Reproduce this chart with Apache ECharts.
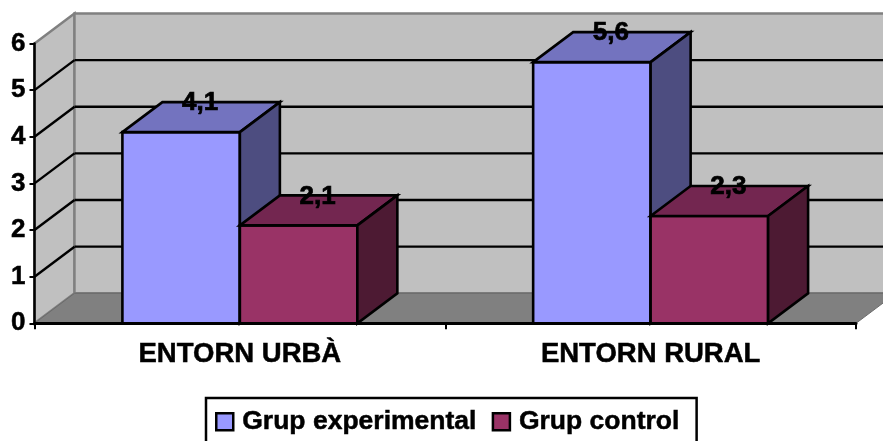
<!DOCTYPE html>
<html>
<head>
<meta charset="utf-8">
<style>html,body{margin:0;padding:0;background:#fff}#c{width:883px;height:441px}</style>
<script src="https://cdn.jsdelivr.net/npm/echarts@6/dist/echarts.min.js"></script>
</head>
<body>
<div id="c"></div>
<script>
var categories = ['ENTORN URBÀ', 'ENTORN RURAL'];
var grupExperimental = [4.1, 5.6];
var grupControl = [2.1, 2.3];
var wallLevels = [0, 1, 2, 3, 4, 5, 6];

var DX = 40, DY = -30, BAR_RATIO = 0.286;
var FONT = '"Liberation Sans", Arial, sans-serif';

function poly(points, fill, stroke, lw) {
  return {type: 'polygon', shape: {points: points},
    style: {fill: fill, stroke: stroke, lineWidth: lw, lineJoin: 'miter'}};
}
function seg(x1, y1, x2, y2, color, lw) {
  return {type: 'line', shape: {x1: x1, y1: y1, x2: x2, y2: y2},
    style: {stroke: color, lineWidth: lw, fill: null}};
}

function renderWall(params, api) {
  var cs = params.coordSys;
  var level = api.value(0);
  var p = api.coord([0, level]);
  var y = p[1], L = cs.x, R = cs.x + cs.width;
  var kids = [];
  if (level === 0) {
    var top = cs.y;
    kids.push(poly([[L, top], [L + DX, top + DY], [L + DX, y + DY], [L, y]], '#c0c0c0', '#808080', 2.4));
    kids.push(poly([[L + DX, top + DY], [R + DX, top + DY], [R + DX, y + DY], [L + DX, y + DY]], '#c0c0c0', '#808080', 2.4));
    kids.push(poly([[L, y], [L + DX, y + DY], [R + DX, y + DY], [R, y]], '#808080', '#6a6a6a', 1));
  } else if (level < 6) {
    kids.push(seg(L, y, L + DX, y + DY, '#000', 2.4));
    kids.push(seg(L + DX, y + DY, R + DX, y + DY, '#000', 2.4));
  }
  return {type: 'group', children: kids};
}

function makeBar(side, front, topC, sideC) {
  return function (params, api) {
    var band = api.size([1, 0])[0];
    var w = band * BAR_RATIO;
    var idx = api.value(0);
    var val = api.value(1);
    var t = api.coord([idx, val]);
    var b = api.coord([idx, 0]);
    var x0 = side === 0 ? t[0] - w : t[0];
    var x1 = x0 + w, yt = t[1], yb = b[1];
    return {type: 'group', children: [
      poly([[x0, yt], [x1, yt], [x1, yb], [x0, yb]], front, '#000', 2.6),
      poly([[x0, yt], [x0 + DX, yt + DY], [x1 + DX, yt + DY], [x1, yt]], topC, '#000', 2.6),
      poly([[x1, yt], [x1 + DX, yt + DY], [x1 + DX, yb + DY], [x1, yb]], sideC, '#000', 2.6),
      {type: 'text', x: (x0 + x1) / 2 + DX / 2 - 1, y: yt + DY + 1,
        style: {text: String(val).replace('.', ','), fill: '#000', stroke: '#000', lineWidth: 0.7,
          font: 'bold 26px ' + FONT, textAlign: 'center', textVerticalAlign: 'middle'}}
    ]};
  };
}

var chart = echarts.init(document.getElementById('c'), null, {renderer: 'canvas'});
chart.setOption({
  animation: false,
  backgroundColor: '#ffffff',
  grid: {left: 34.5, right: 27, top: 43.5, height: 279.8},
  legend: {
    data: ['Grup experimental', 'Grup control'],
    left: 206, top: 398,
    orient: 'horizontal', selectedMode: false,
    padding: [10, 17, 9, 9], itemGap: 15, itemWidth: 17, itemHeight: 17,
    borderColor: '#000', borderWidth: 2.5,
    icon: 'rect',
    itemStyle: {borderColor: '#000', borderWidth: 2.5},
    textStyle: {color: '#000', fontFamily: FONT, fontWeight: 'bold', fontSize: 26.5, padding: [0, 0, 0, 4],
      textBorderColor: '#000', textBorderWidth: 0.5}
  },
  xAxis: {
    type: 'category', data: categories, z: 10,
    axisLine: {lineStyle: {color: '#000', width: 3}},
    axisTick: {show: true, alignWithLabel: false, length: 6, lineStyle: {color: '#000', width: 2}},
    axisLabel: {color: '#000', fontFamily: FONT, fontWeight: 'bold', fontSize: 27.5, margin: 17,
      textBorderColor: '#000', textBorderWidth: 0.5},
    splitLine: {show: false}
  },
  yAxis: {
    type: 'value', min: 0, max: 6, interval: 1, z: 10,
    axisLine: {show: true, lineStyle: {color: '#000', width: 2.5}},
    axisTick: {show: true, length: 5, lineStyle: {color: '#000', width: 2}},
    axisLabel: {color: '#000', fontFamily: FONT, fontWeight: 'bold', fontSize: 26, margin: 9, padding: [2, 0, 0, 0],
      textBorderColor: '#000', textBorderWidth: 0.5},
    splitLine: {show: false}
  },
  series: [
    {type: 'custom', name: 'walls', silent: true, z: 1, data: wallLevels.map(function (v) { return [v]; }),
      encode: {y: 0}, renderItem: renderWall},
    {type: 'custom', name: 'Grup experimental', z: 2, itemStyle: {color: '#9999ff'},
      data: grupExperimental.map(function (v, i) { return [i, v]; }), encode: {x: 0, y: 1},
      renderItem: makeBar(0, '#9999ff', '#7373bf', '#4d4d80')},
    {type: 'custom', name: 'Grup control', z: 3, itemStyle: {color: '#993366'},
      data: grupControl.map(function (v, i) { return [i, v]; }), encode: {x: 0, y: 1},
      renderItem: makeBar(1, '#993366', '#732650', '#4d1a33')}
  ]
});
</script>
</body>
</html>
